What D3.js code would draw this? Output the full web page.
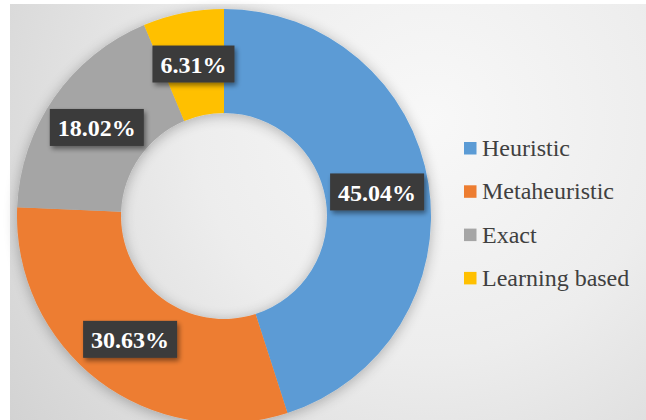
<!DOCTYPE html>
<html>
<head>
<meta charset="utf-8">
<script src="https://cdn.jsdelivr.net/npm/d3@7"></script>
<style>
  html, body { margin: 0; padding: 0; background: #ffffff; }
  svg { display: block; }
  .serif { font-family: "Liberation Serif", "Times New Roman", Times, "DejaVu Serif", serif; }
</style>
</head>
<body>
<svg id="chart" width="646" height="420"></svg>
<script>
// Share of solution approaches
const categories = ["Heuristic", "Metaheuristic", "Exact", "Learning based"];
const shares = [45.04, 30.63, 18.02, 6.31];
const labels = ["45.04%", "30.63%", "18.02%", "6.31%"];
const colors = ["#5b9bd5", "#ed7d31", "#a5a5a5", "#ffc000"];

const svg = d3.select("#chart");
const W = 646, H = 420;

const defs = svg.append("defs");

// soft radial backdrop of the plot area
const bg = defs.append("radialGradient")
  .attr("id", "bgGrad")
  .attr("gradientUnits", "userSpaceOnUse")
  .attr("cx", 430).attr("cy", 120).attr("r", 520);
bg.append("stop").attr("offset", "0%").attr("stop-color", "#f8f8f8");
bg.append("stop").attr("offset", "45%").attr("stop-color", "#ededed");
bg.append("stop").attr("offset", "100%").attr("stop-color", "#d2d2d2");

// glow-like shadow around the ring
const ringShadow = defs.append("filter").attr("id", "ringShadow")
  .attr("x", "-20%").attr("y", "-20%").attr("width", "140%").attr("height", "140%");
ringShadow.append("feGaussianBlur").attr("in", "SourceAlpha").attr("stdDeviation", 7).attr("result", "b");
ringShadow.append("feOffset").attr("in", "b").attr("dx", 0).attr("dy", 2).attr("result", "o");
ringShadow.append("feComponentTransfer").attr("in", "o").attr("result", "s")
  .append("feFuncA").attr("type", "linear").attr("slope", 0.28);
const m1 = ringShadow.append("feMerge");
m1.append("feMergeNode").attr("in", "s");
m1.append("feMergeNode").attr("in", "SourceGraphic");

// shadow under the value boxes
const boxShadow = defs.append("filter").attr("id", "boxShadow")
  .attr("x", "-20%").attr("y", "-30%").attr("width", "150%").attr("height", "170%");
boxShadow.append("feGaussianBlur").attr("in", "SourceAlpha").attr("stdDeviation", 2.5).attr("result", "b");
boxShadow.append("feOffset").attr("in", "b").attr("dx", 2).attr("dy", 3).attr("result", "o");
boxShadow.append("feComponentTransfer").attr("in", "o").attr("result", "s")
  .append("feFuncA").attr("type", "linear").attr("slope", 0.45);
const m2 = boxShadow.append("feMerge");
m2.append("feMergeNode").attr("in", "s");
m2.append("feMergeNode").attr("in", "SourceGraphic");

svg.append("rect")
  .attr("x", 10).attr("y", 4)
  .attr("width", W - 10).attr("height", H - 4)
  .attr("fill", "url(#bgGrad)");

// donut
const cx = 224, cy = 216;
const outerR = 207, innerR = 103, labelR = 155;

const pie = d3.pie().sort(null).value(d => d.value);
const arcs = pie(categories.map((c, i) => ({ name: c, value: shares[i], label: labels[i], color: colors[i] })));

const arc = d3.arc().innerRadius(innerR).outerRadius(outerR);
const labelArc = d3.arc().innerRadius(labelR).outerRadius(labelR);

const g = svg.append("g").attr("transform", `translate(${cx},${cy})`);

g.append("g").attr("filter", "url(#ringShadow)")
  .selectAll("path")
  .data(arcs)
  .join("path")
  .attr("d", arc)
  .attr("fill", d => d.data.color);

// value boxes
const lab = g.selectAll("g.lab")
  .data(arcs)
  .join("g")
  .attr("class", "lab")
  .attr("transform", d => `translate(${labelArc.centroid(d)})`);

const boxRects = lab.append("rect")
  .attr("fill", "#3a3a3a")
  .attr("filter", "url(#boxShadow)");

const boxTexts = lab.append("text")
  .attr("class", "serif")
  .attr("text-anchor", "middle")
  .attr("dominant-baseline", "central")
  .attr("y", 1)
  .attr("fill", "#ffffff")
  .attr("font-weight", "bold")
  .attr("font-size", 24)
  .text(d => d.data.label);

boxTexts.each(function (d) {
  const w = this.getComputedTextLength();
  d.boxW = w + 16;
});
boxRects
  .attr("x", d => -d.boxW / 2)
  .attr("y", -18.5)
  .attr("width", d => d.boxW)
  .attr("height", 37);

// legend
const legend = svg.append("g").attr("transform", "translate(464,156)");
const rowStep = 43.3;
const item = legend.selectAll("g")
  .data(categories)
  .join("g")
  .attr("transform", (d, i) => `translate(0,${i * rowStep})`);

item.append("rect")
  .attr("x", 0).attr("y", -14)
  .attr("width", 12.5).attr("height", 12.5)
  .attr("fill", (d, i) => colors[i]);

item.append("text")
  .attr("class", "serif")
  .attr("x", 18).attr("y", 0)
  .attr("fill", "#404040")
  .attr("font-size", 24)
  .text(d => d);
</script>
</body>
</html>
